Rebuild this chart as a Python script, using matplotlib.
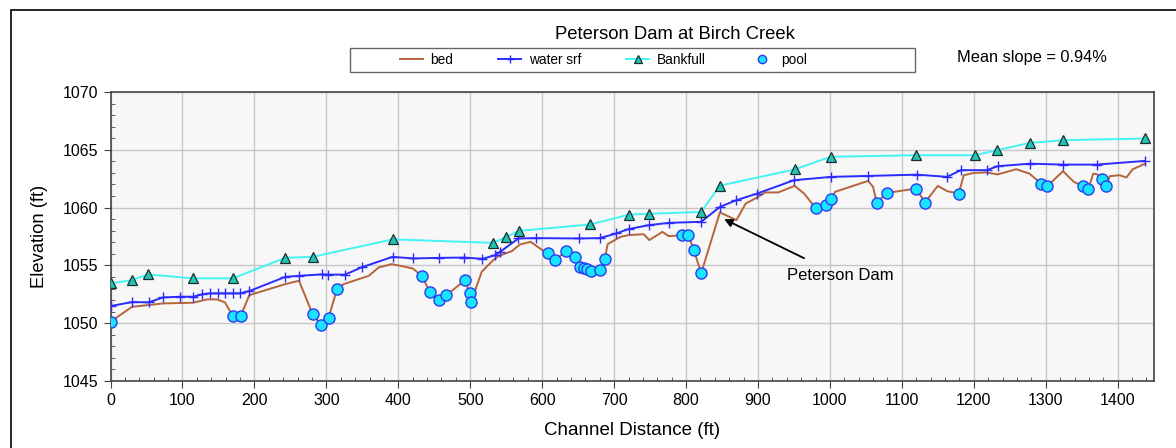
import matplotlib.pyplot as plt
from matplotlib.patches import Rectangle
from matplotlib.ticker import MultipleLocator

plt.rcParams['font.family'] = ['Liberation Sans', 'DejaVu Sans']

# channel distance (ft) and elevation (ft)
bed_x = [0, 30, 53, 73, 115, 134, 148, 159, 170, 181, 193, 243, 262, 281, 293, 303,
         315, 324, 359, 373, 391, 420, 433, 444, 456, 467, 493, 499, 501, 516, 532,
         539, 558, 569, 584, 602, 608, 618, 633, 645, 652, 658, 663, 668, 680, 687,
         691, 709, 720, 741, 749, 767, 776, 794, 803, 811, 821, 847, 870, 883, 899,
         910, 928, 951, 964, 980, 994, 1002, 1007, 1053, 1060, 1065, 1079, 1120,
         1132, 1150, 1163, 1179, 1186, 1200, 1218, 1233, 1259, 1277, 1294, 1302,
         1324, 1339, 1352, 1359, 1366, 1372, 1378, 1384, 1389, 1403, 1412, 1421, 1438]
bed_y = [1050.13, 1051.42, 1051.57, 1051.71, 1051.77, 1052.06, 1052.06, 1051.80,
         1050.64, 1050.64, 1052.43, 1053.38, 1053.67, 1050.76, 1049.84, 1050.47,
         1052.98, 1053.38, 1054.10, 1054.83, 1055.11, 1054.74, 1054.08, 1052.66,
         1052.00, 1052.43, 1053.73, 1052.58, 1051.80, 1054.45, 1055.46, 1055.80,
         1056.24, 1056.81, 1057.04, 1056.24, 1056.03, 1055.46, 1056.24, 1055.74,
         1054.88, 1054.80, 1054.68, 1054.53, 1054.59, 1055.54, 1056.84, 1057.47,
         1057.62, 1057.70, 1057.19, 1057.90, 1057.53, 1057.62, 1057.62, 1056.32,
         1054.31, 1059.58, 1058.92, 1060.36, 1060.88, 1061.31, 1061.31, 1061.88,
         1061.22, 1059.98, 1060.26, 1060.73, 1061.36, 1062.31, 1061.79, 1060.44,
         1061.27, 1061.65, 1060.44, 1061.88, 1061.42, 1061.22, 1062.80, 1063.00,
         1063.04, 1062.87, 1063.32, 1062.95, 1062.08, 1061.85, 1063.15, 1062.23,
         1061.85, 1061.59, 1062.94, 1062.87, 1062.46, 1061.85, 1062.72, 1062.80,
         1062.60, 1063.32, 1063.80]

water_x = [0, 30, 53, 73, 97, 115, 127, 138, 149, 159, 170, 180, 193, 243, 262, 294,
           302, 326, 349, 392, 421, 456, 492, 517, 535, 541, 567, 591, 651, 680, 703,
           720, 748, 776, 821, 847, 870, 899, 950, 1002, 1053, 1121, 1163, 1182, 1218,
           1233, 1278, 1324, 1371, 1438]
water_y = [1051.48, 1051.83, 1051.80, 1052.23, 1052.29, 1052.29, 1052.49, 1052.58,
           1052.58, 1052.58, 1052.58, 1052.58, 1052.78, 1054.01, 1054.10, 1054.22,
           1054.20, 1054.20, 1054.83, 1055.74, 1055.60, 1055.65, 1055.68, 1055.57,
           1055.89, 1056.15, 1057.33, 1057.36, 1057.33, 1057.36, 1057.76, 1058.14,
           1058.48, 1058.68, 1058.77, 1060.06, 1060.64, 1061.22, 1062.37, 1062.66,
           1062.74, 1062.85, 1062.66, 1063.24, 1063.24, 1063.58, 1063.80, 1063.72,
           1063.72, 1064.04]

bank_x = [0, 30, 52, 115, 170, 243, 281, 392, 532, 550, 568, 667, 721, 748, 821, 847,
          951, 1001, 1120, 1202, 1232, 1278, 1324, 1438]
bank_y = [1053.44, 1053.73, 1054.22, 1053.88, 1053.88, 1055.66, 1055.74, 1057.25,
          1056.95, 1057.47, 1057.99, 1058.54, 1059.40, 1059.46, 1059.63, 1061.90,
          1063.30, 1064.40, 1064.53, 1064.53, 1064.97, 1065.60, 1065.83, 1065.98]

pool_x = [0, 170, 181, 281, 293, 303, 315, 433, 444, 456, 467, 493, 499, 501, 608, 618,
          633, 645, 652, 658, 663, 668, 680, 687, 794, 803, 811, 821, 980, 994, 1002,
          1065, 1079, 1120, 1132, 1179, 1294, 1302, 1352, 1359, 1378, 1384]
pool_y = [1050.13, 1050.64, 1050.64, 1050.76, 1049.84, 1050.47, 1052.98, 1054.08,
          1052.66, 1052.00, 1052.43, 1053.73, 1052.58, 1051.80, 1056.03, 1055.46,
          1056.24, 1055.74, 1054.88, 1054.80, 1054.68, 1054.53, 1054.59, 1055.54,
          1057.62, 1057.62, 1056.32, 1054.31, 1059.98, 1060.26, 1060.73, 1060.44,
          1061.27, 1061.65, 1060.44, 1061.22, 1062.08, 1061.85, 1061.85, 1061.59,
          1062.46, 1061.85]

W, H = 1176, 448
fig = plt.figure(figsize=(W / 100, H / 100), dpi=100)
ax = fig.add_axes([0.094, 0.1496, 0.887, 0.645])
ax.set_facecolor('#f7f7f7')

# border round the chart area (right / bottom edges fall outside the crop)
fig.patches.append(Rectangle((11 / W, -0.1), 1.2, 1.1 - 10 / H,
                             transform=fig.transFigure, fill=False,
                             edgecolor='black', linewidth=1.2))

ax.plot(bed_x, bed_y, color='#b5643c', linewidth=1.4, label='bed', zorder=3)
ax.plot(water_x, water_y, color='#2b2bff', linewidth=1.4, marker='+',
        markersize=7, markeredgewidth=1.0, label='water srf', zorder=4)
ax.plot(bank_x, bank_y, color='#44f4f4', linewidth=1.4, marker='^',
        markersize=7, markerfacecolor='#1fc6b6', markeredgecolor='#1a2f2f',
        markeredgewidth=0.9, label='Bankfull', zorder=4)
ax.plot(pool_x, pool_y, linestyle='none', marker='o', markersize=8,
        markerfacecolor='#19e4ff', markeredgecolor='#2a3cf0',
        markeredgewidth=1.0, label='pool', zorder=5)

ax.set_xlim(0, 1450)
ax.set_ylim(1045, 1070)
ax.xaxis.set_major_locator(MultipleLocator(100))
ax.xaxis.set_minor_locator(MultipleLocator(20))
ax.yaxis.set_major_locator(MultipleLocator(5))
ax.yaxis.set_minor_locator(MultipleLocator(1))
ax.grid(True, which='major', color='#c8c8c8', linewidth=1.0)
ax.set_axisbelow(True)
ax.tick_params(which='major', direction='out', length=5, labelsize=11.5,
               color='#444444')
ax.tick_params(which='minor', direction='in', length=3, color='#444444')
for side in ax.spines.values():
    side.set_color('#444444')
    side.set_linewidth(1.2)

ax.set_xlabel('Channel Distance (ft)', fontsize=13.5, labelpad=10)
ax.set_ylabel('Elevation (ft)', fontsize=13.2, labelpad=11)

fig.text(0.574, 0.922, 'Peterson Dam at Birch Creek', fontsize=13.3,
         ha='center', va='center')
fig.text(0.8135, 0.872, 'Mean slope = 0.94%', fontsize=11.8, ha='left',
         va='center')

ax.annotate('Peterson Dam', xy=(853, 1059.0), xytext=(940, 1054.1),
            fontsize=12, va='center', ha='left',
            arrowprops=dict(arrowstyle='-|>', color='black', lw=1.3,
                            shrinkA=12, shrinkB=0, mutation_scale=12))

# legend box drawn separately (Excel-style, wider than its entries)
fig.patches.append(Rectangle((350 / W, 1 - 72 / H), 565 / W, 24 / H,
                             transform=fig.transFigure, fill=False,
                             edgecolor='#666666', linewidth=1.0))
leg = fig.legend(loc='center left', bbox_to_anchor=(393 / W, 1 - 60 / H), ncol=4,
                 fontsize=9.8, frameon=False,
                 handlelength=1.7, handletextpad=0.55, columnspacing=3.3,
                 borderpad=0.0, markerscale=0.75)

plt.savefig('out.png', dpi=100)
